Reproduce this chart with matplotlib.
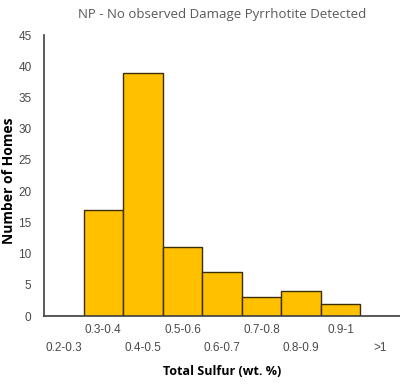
import numpy as np
import matplotlib
matplotlib.use('Agg')
import matplotlib.pyplot as plt

# Data
categories = ['0.2-0.3', '0.3-0.4', '0.4-0.5', '0.5-0.6', '0.6-0.7',
              '0.7-0.8', '0.8-0.9', '0.9-1', '>1']
homes = [0, 17, 39, 11, 7, 3, 4, 2, 0]

fig = plt.figure(figsize=(4.0, 3.85), dpi=100)
ax = fig.add_axes([0.11, 0.179, 0.89, 0.73])

x = np.arange(len(categories))
ax.bar(x, homes, width=1.0, color='#FFC000', edgecolor='#3b2e05', linewidth=1.0)

ax.set_xlim(-0.5, len(categories) - 0.5)
ax.set_ylim(0, 45)
ax.set_yticks(range(0, 46, 5))

# staggered x labels: odd ones on top row, even ones below
labels = [c if i % 2 == 1 else '\n' + c for i, c in enumerate(categories)]
ax.set_xticks(x)
ax.set_xticklabels(labels, fontsize=8.5, color='#4a4a4a', family='Liberation Sans',
                   linespacing=1.6)
for t in ax.get_yticklabels():
    t.set_fontsize(8.5)
    t.set_color('#4a4a4a')
    t.set_family('Liberation Sans')
ax.tick_params(axis='x', length=0, pad=6)
ax.tick_params(axis='y', length=0, pad=9)

for s in ['top', 'right']:
    ax.spines[s].set_visible(False)
ax.spines['left'].set_color('#404040')
ax.spines['bottom'].set_color('#404040')
ax.spines['left'].set_linewidth(1.2)
ax.spines['bottom'].set_linewidth(1.2)

ax.set_title('NP - No observed Damage Pyrrhotite Detected', fontsize=9.5,
             color='#595959', family='Open Sans', pad=12)
ax.set_xlabel('Total Sulfur (wt. %)', fontsize=9, fontweight='bold',
              family='Open Sans', labelpad=8)
ax.set_ylabel('Number of Homes', fontsize=10, fontweight='bold',
              family='Open Sans')
ax.yaxis.set_label_coords(-0.078, 0.48)

plt.savefig('out.png', dpi=100)
